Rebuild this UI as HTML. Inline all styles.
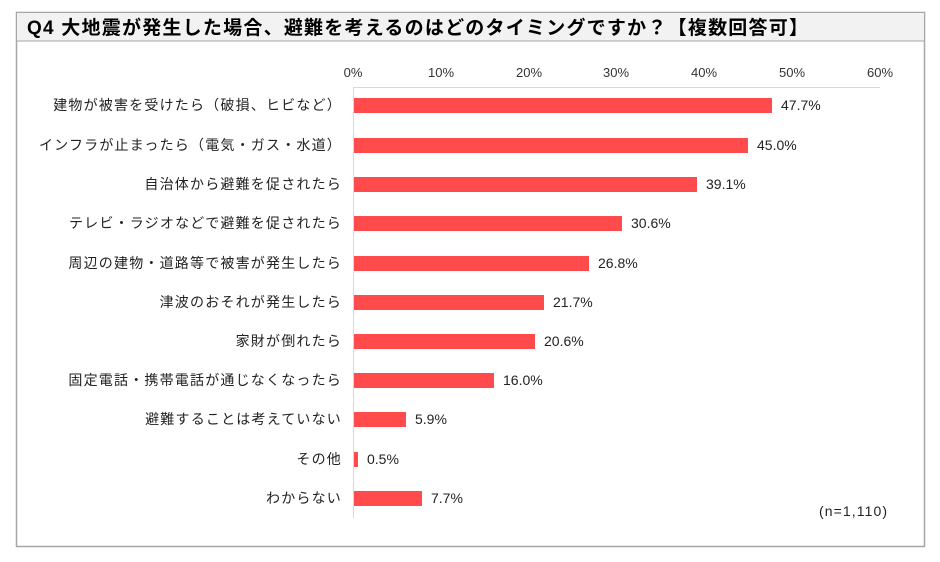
<!DOCTYPE html>
<html><head><meta charset="utf-8"><style>
body{margin:0;background:#fff;width:940px;height:557px;overflow:hidden}
svg text{font-family:"Liberation Sans","Noto Sans CJK JP",sans-serif}
</style></head><body>
<svg width="940" height="557" viewBox="0 0 940 557">
<rect x="16.5" y="12.5" width="908" height="534" fill="#fff" stroke="#a6a6a6" stroke-width="1.5"/>
<rect x="17" y="13" width="907" height="28" fill="#f2f2f2"/>
<line x1="17" y1="41" x2="924" y2="41" stroke="#a6a6a6" stroke-width="1"/>
<text x="27" y="34" font-size="19" font-weight="bold" fill="#000" textLength="781" lengthAdjust="spacing">Q4 大地震が発生した場合、避難を考えるのはどのタイミングですか？【複数回答可】</text>
<g font-size="13" fill="#333" text-anchor="middle">
<text x="353" y="77">0%</text><text x="441" y="77">10%</text><text x="529" y="77">20%</text><text x="616" y="77">30%</text><text x="704" y="77">40%</text><text x="792" y="77">50%</text><text x="880" y="77">60%</text>
</g>
<line x1="353" y1="87.5" x2="880" y2="87.5" stroke="#d9d9d9"/>
<line x1="353.5" y1="87" x2="353.5" y2="518" stroke="#d9d9d9"/>
<g fill="#ff4b4b">
<rect x="354" y="98" width="418" height="15"/>
<rect x="354" y="138" width="394" height="15"/>
<rect x="354" y="177" width="343" height="15"/>
<rect x="354" y="216" width="268" height="15"/>
<rect x="354" y="256" width="235" height="15"/>
<rect x="354" y="295" width="190" height="15"/>
<rect x="354" y="334" width="181" height="15"/>
<rect x="354" y="373" width="140" height="15"/>
<rect x="354" y="412" width="52" height="15"/>
<rect x="354" y="452" width="4" height="15"/>
<rect x="354" y="491" width="68" height="15"/>
</g>
<g font-size="14" fill="#222" text-anchor="end" letter-spacing="1.2">
<text x="342" y="110">建物が被害を受けたら（破損、ヒビなど）</text>
<text x="342" y="150">インフラが止まったら（電気・ガス・水道）</text>
<text x="342" y="189">自治体から避難を促されたら</text>
<text x="342" y="228">テレビ・ラジオなどで避難を促されたら</text>
<text x="342" y="268">周辺の建物・道路等で被害が発生したら</text>
<text x="342" y="307">津波のおそれが発生したら</text>
<text x="342" y="346">家財が倒れたら</text>
<text x="342" y="385">固定電話・携帯電話が通じなくなったら</text>
<text x="342" y="424">避難することは考えていない</text>
<text x="342" y="464">その他</text>
<text x="342" y="503">わからない</text>
</g>
<g font-size="14" fill="#222">
<text x="781" y="110">47.7%</text>
<text x="757" y="150">45.0%</text>
<text x="706" y="189">39.1%</text>
<text x="631" y="228">30.6%</text>
<text x="598" y="268">26.8%</text>
<text x="553" y="307">21.7%</text>
<text x="544" y="346">20.6%</text>
<text x="503" y="385">16.0%</text>
<text x="415" y="424">5.9%</text>
<text x="367" y="464">0.5%</text>
<text x="431" y="503">7.7%</text>
<text x="819" y="516" textLength="68" lengthAdjust="spacing">(n=1,110)</text>
</g>
</svg>
</body></html>
